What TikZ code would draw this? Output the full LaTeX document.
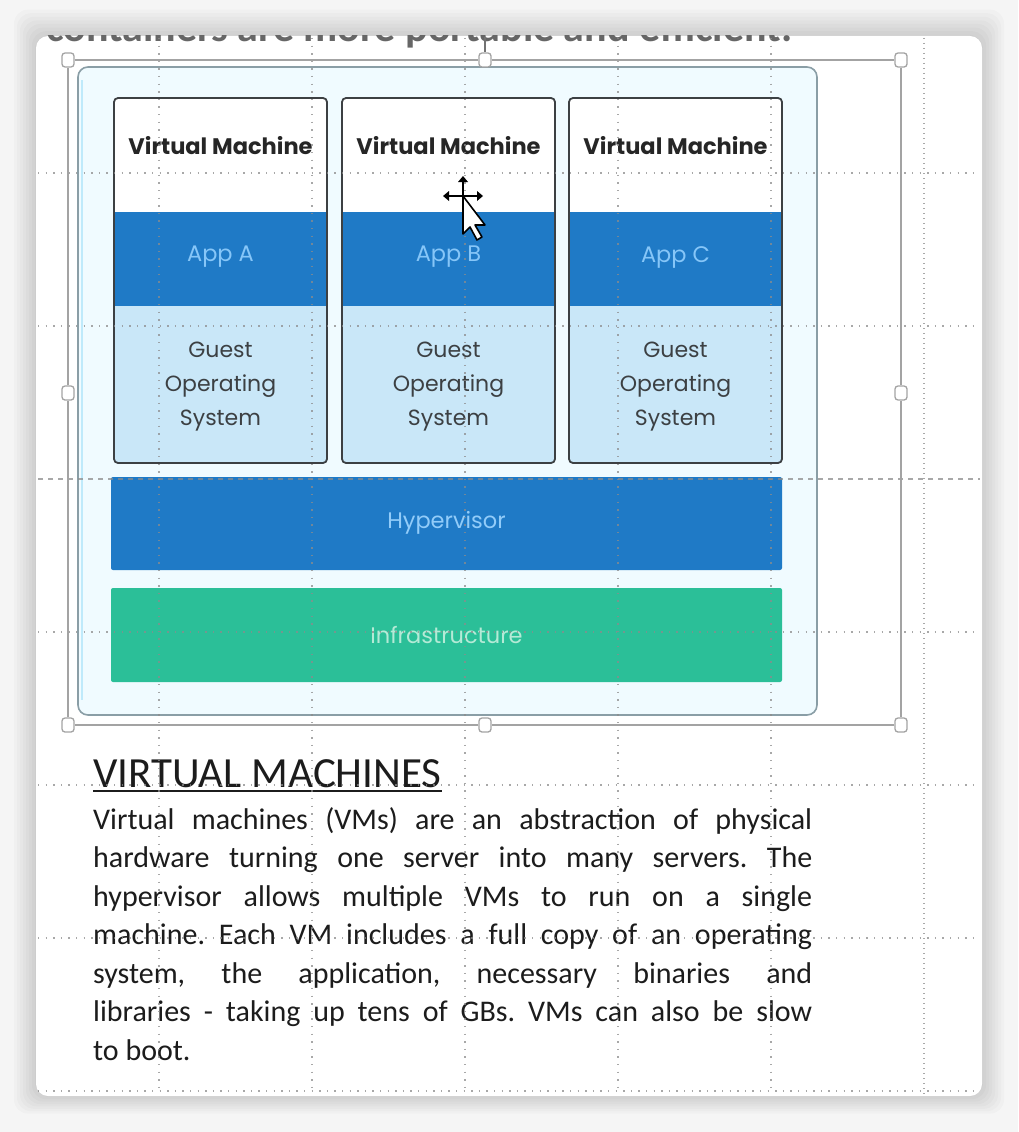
\documentclass[tikz,border=0pt]{standalone}
\usepackage{fontspec}
\setmainfont{Carlito}
\newfontfamily\diagfont{Poppins}
\usetikzlibrary{calc}
\frenchspacing

\definecolor{appblue}{HTML}{1F7AC6}
\definecolor{applight}{HTML}{86C6F8}
\definecolor{guestblue}{HTML}{C9E7F8}
\definecolor{infragreen}{HTML}{2BBF98}
\definecolor{infralight}{HTML}{B4EAD6}
\definecolor{vmline}{HTML}{3C4043}
\definecolor{hostfill}{HTML}{F0FBFF}
\definecolor{hostline}{HTML}{8A9EA6}
\definecolor{gridgray}{HTML}{8C8C8C}
\definecolor{selgray}{HTML}{A3A3A3}
\definecolor{bodytext}{HTML}{1C1C1C}

\tikzset{
  vmbox/.style={draw=vmline, line width=1.8pt, rounded corners=4pt},
  vmtitle/.style={font=\diagfont\bfseries\fontsize{22.5}{26}\selectfont, text=black!85},
  applabel/.style={font=\diagfont\fontsize{22.5}{26}\selectfont, text=applight},
  guestlabel/.style={font=\diagfont\fontsize{22}{34}\selectfont, text=vmline, align=center},
  gridline/.style={gridgray, line width=1.2pt, dash pattern=on 1.4pt off 6.2pt, opacity=0.75},
  handle/.style={draw=selgray, line width=1.3pt, fill=white, rounded corners=3pt,
    minimum width=12pt, minimum height=14pt, inner sep=0pt},
  bodyline/.style={anchor=base west, inner sep=0pt, text=bodytext,
    font=\fontsize{30}{38.5}\selectfont}
}

\begin{document}
\begin{tikzpicture}[x=1pt, y=-1pt]
  \useasboundingbox (0,0) rectangle (1018,1132);
  \fill[white!96!black] (0,0) rectangle (1018,1132);
  % page shadow
  \foreach \s in {22,19,...,1}
    \fill[black, opacity=0.018, rounded corners=14pt] (36-\s,36-\s*1.2) rectangle (982+\s,1096+\s*0.8);
  \fill[white, rounded corners=12pt] (36,36) rectangle (982,1096);

  % end of the previous line, cut by the page edge
  \begin{scope}
    \path[clip] (40,36) rectangle (978,60);
    \node[anchor=base west, inner sep=0pt, text=black!60, font=\bfseries\fontsize{42}{48}\selectfont]
      (prevline) at (46,42) {containers are more portable and efficient.};
  \end{scope}

  % host box
  \draw[hostline, fill=hostfill, line width=1.6pt, rounded corners=10pt] (78,67) rectangle (817,715);
  \draw[cyan!25, line width=1.5pt] (82,80) -- (82,700);

  % the three virtual machines
  \foreach \n/\x/\app in {1/114/A, 2/342/B, 3/569/C} {
    \begin{scope}
      \clip[rounded corners=4pt] (\x,98) rectangle (\x+213,463);
      \fill[white] (\x,98) rectangle (\x+213,212);
      \fill[appblue] (\x,212) rectangle (\x+213,306);
      \fill[guestblue] (\x,306) rectangle (\x+213,463);
    \end{scope}
    \draw[vmbox] (\x,98) rectangle (\x+213,463);
    \node[vmtitle] (vm\n) at (\x+106.5,146) {Virtual Machine};
    \node[applabel] (app\n) at (\x+106.5,257) {App \app};
    \node[guestlabel] (guest\n) at (\x+106.5,387) {Guest\\Operating\\System};
  }

  % hypervisor and infrastructure
  \fill[appblue, rounded corners=2pt] (111,477) rectangle (782,570);
  \node[applabel, text=applight!90!white] (hyper) at (446.5,523) {Hypervisor};
  \fill[infragreen, rounded corners=2pt] (111,588) rectangle (782,682);
  \node[applabel, text=infralight] (infra) at (446.5,635) {Infrastructure};

  % text below the picture
  \node[anchor=base west, inner sep=0pt, text=bodytext, font=\fontsize{43}{50}\selectfont]
    (vmhead) at (93,787) {VIRTUAL MACHINES};
  \draw[bodytext, line width=2.4pt] ($(vmhead.base west)+(0,4)$) -- ($(vmhead.base east)+(0,4)$);
  \foreach \txt [count=\n] in {
      {Virtual machines (VMs) are an abstraction of physical},
      {hardware turning one server into many servers. The},
      {hypervisor allows multiple VMs to run on a single},
      {machine. Each VM includes a full copy of an operating},
      {system, the application, necessary binaries and},
      {libraries - taking up tens of GBs. VMs can also be slow}}
    \node[bodyline] (line\n) at (93,829+38.5*\n-38.5) {\makebox[719pt][s]{\txt}};
  \node[bodyline] (line7) at (93,1060) {to boot.};

  % page grid
  \foreach \x in {159,312,465,618,771}
    \draw[gridline] (\x,38) -- (\x,1094);
  \draw[gridline, dash pattern=on 1.4pt off 3.6pt] (924,38) -- (924,1094);
  \foreach \y in {173,326,632,785,938,1091}
    \draw[gridline] (38,\y) -- (980,\y);
  \draw[gridline, dash pattern=on 5pt off 5pt] (38,479) -- (980,479);

  % selection frame
  \node[handle] (hnw) at (68,60) {};
  \node[handle] (hn) at (485,60) {};
  \node[handle] (hne) at (901,60) {};
  \node[handle] (he) at (901,393) {};
  \node[handle] (hse) at (901,725) {};
  \node[handle] (hs) at (485,725) {};
  \node[handle] (hsw) at (68,725) {};
  \node[handle] (hw) at (68,393) {};
  \coordinate (hrot) at (485,37);
  \draw[selgray, line width=1.4pt] (hnw) -- (hn) -- (hne) -- (he) -- (hse) -- (hs) -- (hsw) -- (hw) -- (hnw);
  \draw[selgray!70!black, line width=1.4pt] (hrot) -- (hn);

  % mouse pointer
  \coordinate (mouse) at (463,196);
  \draw[black, line width=2pt] ($(mouse)+(0,-16)$) -- ($(mouse)+(0,10)$);
  \draw[black, line width=2pt] ($(mouse)+(-16,0)$) -- ($(mouse)+(16,0)$);
  \fill[black] ($(mouse)+(0,-20)$) -- ++(-5,6) -- ++(10,0) -- cycle;
  \fill[black] ($(mouse)+(-20,0)$) -- ++(6,-5) -- ++(0,10) -- cycle;
  \fill[black] ($(mouse)+(20,0)$) -- ++(-6,-5) -- ++(0,10) -- cycle;
  \draw[black, fill=white, line width=1.6pt, line join=round]
    (mouse) -- ++(0,38) -- ++(7,-7) -- ++(7,13) -- ++(5,-3) -- ++(-7,-12) -- ++(10,0) -- cycle;
\end{tikzpicture}
\end{document}
